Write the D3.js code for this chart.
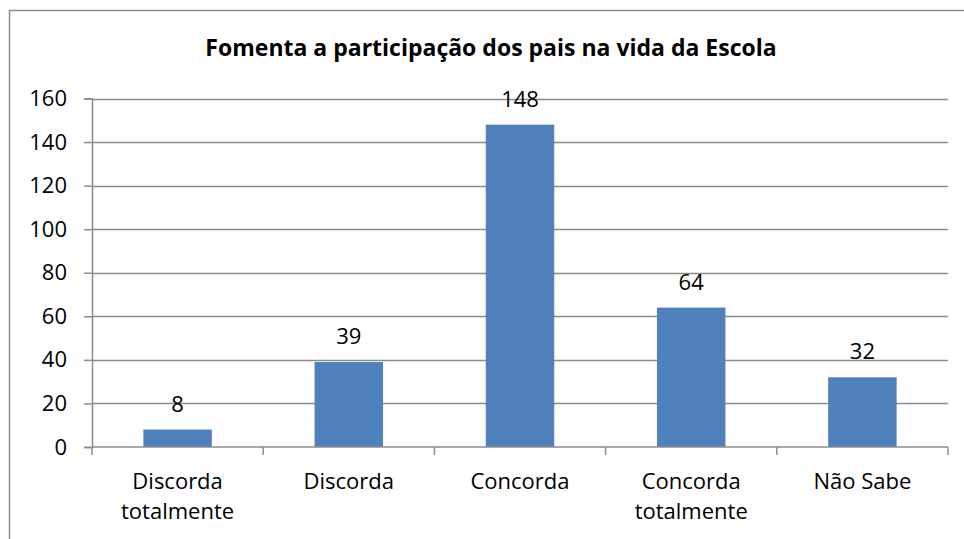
<!DOCTYPE html>
<html><head><meta charset="utf-8">
<script src="https://cdnjs.cloudflare.com/ajax/libs/d3/7.8.5/d3.min.js"></script>
<style>body{margin:0;background:#fff}svg{display:block}</style>
</head><body>
<svg id="c" width="964" height="539"></svg>
<script>
const categories = [["Discorda","totalmente"],["Discorda"],["Concorda"],["Concorda","totalmente"],["Não Sabe"]];
const values = [8, 39, 148, 64, 32];
const yTicks = [0, 20, 40, 60, 80, 100, 120, 140, 160];
const title = "Fomenta a participação dos pais na vida da Escola";

const svg = d3.select("#c");
const font = "'Open Sans', sans-serif";
const m = {left: 92, right: 948, top: 98.5, bottom: 447};

svg.append("rect").attr("x", 9.5).attr("y", 10.5).attr("width", 1000).attr("height", 600)
  .attr("fill", "#fff").attr("stroke", "#8e8e8e").attr("stroke-width", 1.5);

svg.append("text").attr("x", 491).attr("y", 56).attr("text-anchor", "middle")
  .attr("font-family", font).attr("font-weight", "bold").attr("font-size", 23).attr("fill", "#000")
  .text(title);

const x = d3.scaleBand().domain(d3.range(values.length)).range([m.left, m.right]).paddingInner(0.6).paddingOuter(0.3);
const xb = d3.scaleBand().domain(d3.range(values.length)).range([m.left, m.right]);
const y = d3.scaleLinear().domain([0, 160]).range([m.bottom, m.top]);

// gridlines
svg.append("g").selectAll("line").data(yTicks.filter(d => d > 0)).join("line")
  .attr("x1", m.left).attr("x2", m.right).attr("y1", d => Math.round(y(d)) + 0.5).attr("y2", d => Math.round(y(d)) + 0.5)
  .attr("stroke", "#8c8c8c").attr("stroke-width", 1.5);

// y axis
const ya = svg.append("g").attr("transform", `translate(${m.left},0)`)
  .call(d3.axisLeft(y).tickValues(yTicks).tickSize(8).tickPadding(17));
ya.select(".domain").attr("stroke", "#8c8c8c").attr("stroke-width", 1.5);
ya.selectAll(".tick line").attr("stroke", "#8c8c8c").attr("stroke-width", 1.5);
ya.selectAll(".tick text").attr("font-family", font).attr("font-size", 22).attr("fill", "#000");

// bars
svg.append("g").selectAll("rect").data(values).join("rect")
  .attr("x", (d, i) => x(i)).attr("width", x.bandwidth())
  .attr("y", d => y(d)).attr("height", d => y(0) - y(d))
  .attr("fill", "#4F81BD");

// x axis
const xa = svg.append("g");
xa.append("line").attr("x1", m.left).attr("x2", m.right).attr("y1", m.bottom).attr("y2", m.bottom)
  .attr("stroke", "#8c8c8c").attr("stroke-width", 1.5);
const bounds = d3.range(values.length + 1).map(i => i < values.length ? xb(i) : m.right);
xa.selectAll("line.t").data(bounds).join("line").attr("class", "t")
  .attr("x1", d => d).attr("x2", d => d).attr("y1", m.bottom).attr("y2", m.bottom + 8)
  .attr("stroke", "#8c8c8c").attr("stroke-width", 1.5);

const labs = xa.selectAll("text").data(categories).join("text")
  .attr("x", (d, i) => xb(i) + xb.bandwidth() / 2).attr("y", 489)
  .attr("text-anchor", "middle").attr("font-family", font).attr("font-size", 22).attr("fill", "#000");
labs.each(function(d) {
  d3.select(this).selectAll("tspan").data(d).join("tspan")
    .attr("x", d3.select(this).attr("x")).attr("dy", (t, j) => j === 0 ? 0 : 30).text(t => t);
});

// value labels
svg.append("g").selectAll("text").data(values).join("text")
  .attr("x", (d, i) => x(i) + x.bandwidth() / 2).attr("y", d => y(d) - 18)
  .attr("text-anchor", "middle").attr("font-family", font).attr("font-size", 22).attr("fill", "#000")
  .text(d => d);
</script>
</body></html>
